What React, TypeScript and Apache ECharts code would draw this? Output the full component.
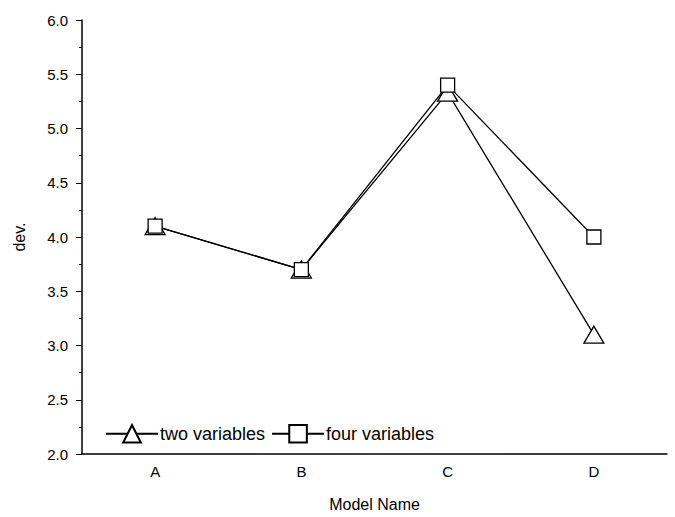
import React, { useEffect, useRef } from "react";
import * as echarts from "echarts";

const categories = ["A", "B", "C", "D"];
const twoVariables = [4.1, 3.7, 5.33, 3.1];
const fourVariables = [4.1, 3.7, 5.4, 4.0];

export default function App() {
  const ref = useRef<HTMLDivElement>(null);
  useEffect(() => {
    const chart = echarts.init(ref.current!, null, { renderer: "svg" });
    const font = "Liberation Sans, Arial, sans-serif";
    chart.setOption({
      animation: false,
      backgroundColor: "#fff",
      textStyle: { fontFamily: font, color: "#000" },
      grid: { left: 82, right: 8, top: 20, bottom: 59 },
      legend: {
        left: 100,
        top: 419,
        itemWidth: 52,
        itemHeight: 22,
        itemGap: 6,
        textStyle: { fontFamily: font, fontSize: 18, color: "#000", padding: [0, 0, 0, -3] },
        data: ["two variables", "four variables"],
      },
      xAxis: {
        type: "category",
        data: categories,
        boundaryGap: true,
        name: "Model Name",
        nameLocation: "middle",
        nameGap: 42,
        nameTextStyle: { fontFamily: font, fontSize: 16, color: "#000" },
        axisLine: { lineStyle: { color: "#000", width: 1.5 } },
        axisTick: { inside: true, alignWithLabel: true, length: 6, lineStyle: { color: "#000" } },
        axisLabel: { fontFamily: font, fontSize: 15, color: "#000", margin: 10 },
      },
      yAxis: {
        type: "value",
        min: 2,
        max: 6,
        interval: 0.5,
        name: "dev.",
        nameLocation: "middle",
        nameGap: 55,
        nameTextStyle: { fontFamily: font, fontSize: 16, color: "#000" },
        axisLine: { show: true, lineStyle: { color: "#000", width: 1.5 } },
        axisTick: { show: true, length: 6, lineStyle: { color: "#000" } },
        minorTick: { show: true, splitNumber: 2, length: 3, lineStyle: { color: "#000" } },
        splitLine: { show: false },
        axisLabel: {
          fontFamily: font,
          fontSize: 15,
          color: "#000",
          margin: 14,
          formatter: (v: number) => v.toFixed(1),
        },
      },
      series: [
        {
          name: "two variables",
          type: "line",
          data: twoVariables,
          symbol: "triangle",
          symbolSize: [20, 17],
          lineStyle: { color: "#000", width: 1.3 },
          itemStyle: { color: "#fff", borderColor: "#000", borderWidth: 1.3 },
          z: 2,
        },
        {
          name: "four variables",
          type: "line",
          data: fourVariables,
          symbol: "rect",
          symbolSize: 14,
          lineStyle: { color: "#000", width: 1.3 },
          itemStyle: { color: "#fff", borderColor: "#000", borderWidth: 1.3 },
          z: 3,
        },
      ],
    });
    return () => chart.dispose();
  }, []);
  return (
    <div
      ref={ref}
      style={{ position: "fixed", left: 0, top: 0, width: 675, height: 517, background: "#fff" }}
    />
  );
}
